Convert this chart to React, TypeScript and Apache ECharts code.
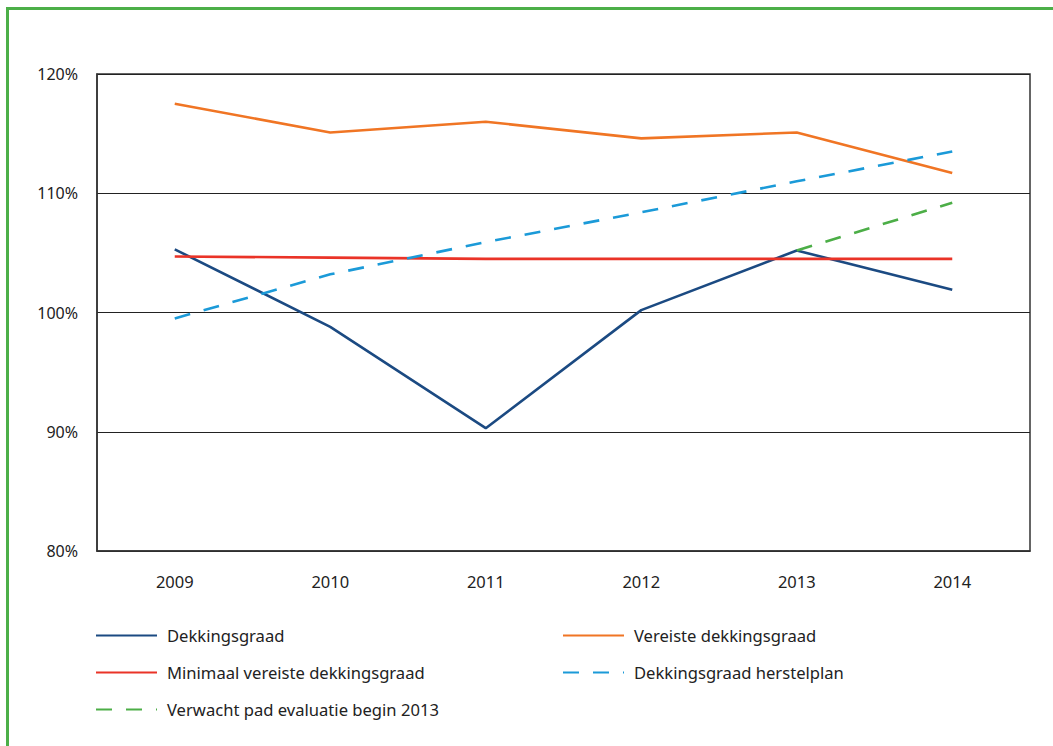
import React, { useEffect, useRef } from "react";
import * as echarts from "echarts";

const years = ["2009", "2010", "2011", "2012", "2013", "2014"];
const dekkingsgraad = [105.3, 98.8, 90.3, 100.2, 105.2, 101.9];
const vereiste = [117.5, 115.1, 116.0, 114.6, 115.1, 111.7];
const minimaal = [104.7, 104.6, 104.5, 104.5, 104.5, 104.5];
const herstelplan = [99.5, 103.2, 105.9, 108.4, 111.0, 113.5];
const verwacht = [null, null, null, null, 105.2, 109.2];

const FONT = "'Noto Sans', sans-serif";

export default function App() {
  const ref = useRef<HTMLDivElement>(null);
  useEffect(() => {
    const chart = echarts.init(ref.current!, null, { renderer: "svg" });
    const line = (name: string, data: any[], color: string, dashed = false) => ({
      name,
      type: "line",
      data,
      symbol: "none",
      showSymbol: false,
      connectNulls: false,
      lineStyle: { color, width: 2.6, type: dashed ? [16, 14] : "solid" },
      itemStyle: { color },
      z: 3,
    });
    const legendBase = {
      orient: "vertical",
      padding: 0,
      itemWidth: 61,
      itemHeight: 3,
      itemGap: 20,
      itemStyle: { opacity: 0 },
      textStyle: { fontFamily: FONT, fontSize: 16.6, color: "#222", padding: [0, 0, 0, 5] },
    };
    chart.setOption({
      animation: false,
      backgroundColor: "#fff",
      graphic: [
        {
          type: "rect",
          shape: { x: 7.5, y: 8.5, width: 1100, height: 800 },
          style: { fill: "none", stroke: "#4caf48", lineWidth: 3 },
          silent: true,
        },
      ],
      grid: {
        left: 97,
        right: 23,
        top: 74,
        bottom: 195,
        show: true,
        borderColor: "#333",
        borderWidth: 1.5,
      },
      legend: [
        {
          ...legendBase,
          left: 95,
          top: 627,
          data: ["Dekkingsgraad", "Minimaal vereiste dekkingsgraad", "Verwacht pad evaluatie begin 2013"],
        },
        {
          ...legendBase,
          left: 562,
          top: 627,
          data: ["Vereiste dekkingsgraad", "Dekkingsgraad herstelplan"],
        },
      ],
      xAxis: {
        type: "category",
        data: years,
        boundaryGap: true,
        axisLine: { show: true, lineStyle: { color: "#333", width: 1.5 } },
        axisTick: { show: false },
        axisLabel: { margin: 22, fontFamily: FONT, fontSize: 16.5, color: "#222" },
        splitLine: { show: false },
      },
      yAxis: {
        type: "value",
        min: 80,
        max: 120,
        interval: 10,
        axisLine: { show: true, lineStyle: { color: "#333", width: 1.5 } },
        axisTick: { show: false },
        axisLabel: {
          margin: 19,
          fontFamily: FONT,
          fontSize: 16,
          color: "#222",
          formatter: (v: number) => v + "%",
        },
        splitLine: { show: true, lineStyle: { color: "#222", width: 1 } },
      },
      series: [
        line("Dekkingsgraad", dekkingsgraad, "#1b4a82"),
        line("Vereiste dekkingsgraad", vereiste, "#f07524"),
        line("Minimaal vereiste dekkingsgraad", minimaal, "#ea3327"),
        line("Dekkingsgraad herstelplan", herstelplan, "#1b9ad8", true),
        line("Verwacht pad evaluatie begin 2013", verwacht, "#4cae47", true),
      ],
    });
    return () => chart.dispose();
  }, []);
  return <div ref={ref} style={{ width: 1053, height: 746, position: "absolute", left: 0, top: 0 }} />;
}
